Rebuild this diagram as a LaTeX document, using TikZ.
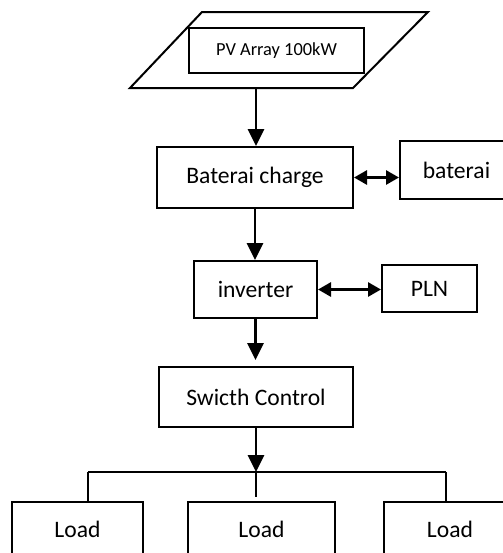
\documentclass[tikz,border=0pt]{standalone}
\usepackage{fontspec}
\setmainfont{Carlito}
\usetikzlibrary{arrows.meta}

\begin{document}
\begin{tikzpicture}[x=0.5pt, y=-0.5pt,
    box/.style={draw, line width=1pt, inner sep=0pt, font=\fontsize{11.8}{14}\selectfont},
    wire/.style={line width=1pt},
    arr/.style={line width=1.4pt, -{Triangle[length=8.5pt, width=8pt]}},
    dbl/.style={line width=1.4pt, {Triangle[length=6.5pt, width=7pt]}-{Triangle[length=6.5pt, width=7pt]}}]
    \useasboundingbox (0,0) rectangle (503,553);
    \clip (0,0) rectangle (503,553);
    % パネル
    \draw[wire] (130,88) -- (202,12) -- (428,12) -- (353,88) -- cycle;
    \coordinate (panel) at (256,88);
    % ノード
    \node[box, minimum width=87.5pt, minimum height=22.5pt, font=\fontsize{9.2}{11}\selectfont] (pv) at (276.5,50.5) {PV Array 100kW};
    \node[box, minimum width=98pt, minimum height=30.5pt] (charge) at (255,177.5) {Baterai charge};
    \node[box, minimum width=56.5pt, minimum height=29pt] (baterai) at (456.5,170) {baterai};
    \node[box, minimum width=61.5pt, minimum height=28.5pt] (inverter) at (255.5,289.5) {inverter};
    \node[box, minimum width=47.5pt, minimum height=23.5pt] (pln) at (429.5,288.5) {PLN};
    \node[box, minimum width=97pt, minimum height=30pt] (switch) at (256,397) {Swicth Control};
    \node[box, minimum width=65.5pt, minimum height=27pt] (load1) at (77.5,529) {Load};
    \node[box, minimum width=73.5pt, minimum height=27pt] (load2) at (261.5,529) {Load};
    \node[box, minimum width=66pt, minimum height=27pt] (load3) at (450,529) {Load};
    % 分岐
    \coordinate (bus) at (256,472);
    \coordinate (busL) at (88,472);
    \coordinate (busR) at (446,472);
    \coordinate (drop) at (256,497);

    % エッジ
    \draw[arr] (panel) -- (panel |- charge.north);
    \draw[dbl] (charge.east) -- (charge.east -| baterai.west);
    \draw[arr] (charge.south) -- (charge.south |- inverter.north);
    \draw[dbl] (inverter.east) -- (inverter.east -| pln.west);
    \draw[arr, shorten >=3pt] (inverter.south) -- (inverter.south |- switch.north);
    \draw[arr] (switch) -- (bus);
    \draw[wire] (busL) -- (busR);
    \draw[wire] (busL) -- (busL |- load1.north);
    \draw[wire] (bus) -- (drop);
    \draw[wire] (busR) -- (busR |- load3.north);
\end{tikzpicture}
\end{document}
